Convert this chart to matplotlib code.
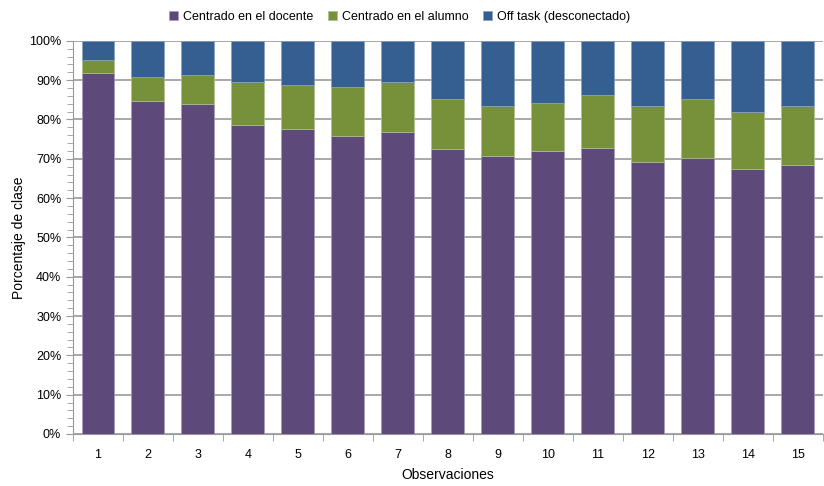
import matplotlib.pyplot as plt
from matplotlib.ticker import MultipleLocator, PercentFormatter
import numpy as np

plt.rcParams['font.family'] = ['Liberation Sans', 'DejaVu Sans']

observaciones = list(range(1, 16))
docente = [91.9, 84.7, 84.0, 78.6, 77.7, 75.9, 76.9, 72.4, 70.8, 71.9, 72.7, 69.2, 70.1, 67.5, 68.4]
alumno = [3.3, 6.2, 7.2, 11.0, 11.0, 12.3, 12.6, 12.8, 12.5, 12.3, 13.5, 14.3, 15.1, 14.4, 15.0]
off_task = [100 - d - a for d, a in zip(docente, alumno)]

c_doc = '#5d4a7a'
c_alu = '#77913a'
c_off = '#365f91'

fig = plt.figure(figsize=(8.24, 4.86), dpi=100)
ax = fig.add_axes([0.0886, 0.107, 0.91, 0.809])

x = np.array(observaciones)
w = 0.66
ax.bar(x, docente, w, color=c_doc, edgecolor='#a89cb8', linewidth=0.5, label='Centrado en el docente', zorder=3)
ax.bar(x, alumno, w, bottom=docente, color=c_alu, edgecolor='#b0c090', linewidth=0.5, label='Centrado en el alumno', zorder=3)
bottom2 = [d + a for d, a in zip(docente, alumno)]
ax.bar(x, off_task, w, bottom=bottom2, color=c_off, edgecolor='#8aa0c0', linewidth=0.5, label='Off task (desconectado)', zorder=3)

ax.set_xlim(0.5, 15.5)
ax.set_ylim(0, 100)
ax.yaxis.set_major_locator(MultipleLocator(10))
ax.yaxis.set_minor_locator(MultipleLocator(2))
ax.yaxis.set_major_formatter(PercentFormatter(decimals=0))
ax.set_xticks(x)
ax.set_xticks(np.arange(0.5, 16, 1), minor=True)
ax.tick_params(axis='x', which='major', length=0, pad=11, labelsize=9)
ax.tick_params(axis='x', which='minor', length=5, color='#999999', direction='out')
ax.tick_params(axis='y', which='major', length=5, color='#999999', labelsize=9)
ax.tick_params(axis='y', which='minor', length=4, color='#999999')

ax.grid(axis='y', which='major', color='#999999', linewidth=1.2, zorder=0)
for s in ['top', 'right']:
    ax.spines[s].set_visible(False)
ax.spines['left'].set_color('#999999')
ax.spines['bottom'].set_color('#999999')

ax.set_ylabel('Porcentaje de clase', fontsize=10, labelpad=2)
ax.set_xlabel('Observaciones', fontsize=10, labelpad=5)

fig.legend(loc='upper center', bbox_to_anchor=(0.485, 1.0), ncol=3, frameon=False,
           fontsize=9, handlelength=0.7, handleheight=0.7, handletextpad=0.4, columnspacing=1.2)

fig.savefig('out.png', dpi=100)
